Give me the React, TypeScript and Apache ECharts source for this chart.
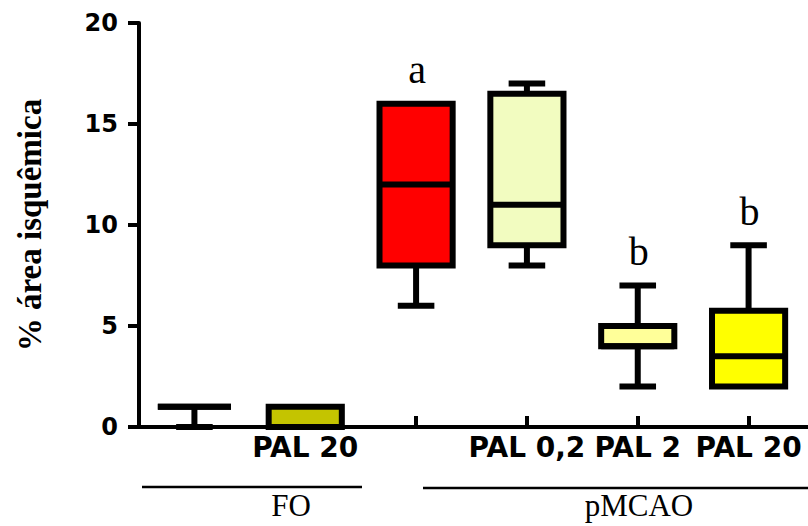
import React, { useEffect, useRef } from "react";
import * as echarts from "echarts";

const categories = ["", "PAL 20", "", "PAL 0,2", "PAL 2", "PAL 20"];
const minValues = [0, 0, 6, 8, 2, 2];
const q1Values = [1, 0, 8, 9, 4, 2];
const medianValues = [1, 0, 12, 11, 4, 3.5];
const q3Values = [1, 1, 16, 16.5, 5, 5.75];
const maxValues = [1, 1, 16, 17, 7, 9];
const boxColors = ["#ffffff", "#c4c400", "#ff0000", "#f2fcc0", "#ffff99", "#ffff00"];
const sigLetters = ["", "", "a", "", "b", "b"];
const yTickValues = [0, 5, 10, 15, 20];
const groupNames = ["FO", "pMCAO"];
const yAxisTitle = "% área isquêmica";

export default function App() {
  const ref = useRef<HTMLDivElement>(null);
  useEffect(() => {
    document.body.style.margin = "0";
    if (!ref.current) return;
    const chart = echarts.init(ref.current, null, { renderer: "svg" });
    const data = categories.map((_, i) => [
      i,
      minValues[i],
      q1Values[i],
      medianValues[i],
      q3Values[i],
      maxValues[i],
    ]);
    const blk = "#000000";
    const option: any = {
      animation: false,
      backgroundColor: "#ffffff",
      grid: { left: 139, right: 4, top: 23, bottom: 99, containLabel: false },
      xAxis: {
        type: "category",
        data: categories,
        boundaryGap: true,
        axisLine: { show: true, lineStyle: { color: blk, width: 4 } },
        axisTick: {
          show: true,
          inside: true,
          alignWithLabel: true,
          length: 11,
          lineStyle: { color: blk, width: 4 },
        },
        axisLabel: {
          interval: 0,
          margin: 6,
          color: blk,
          fontFamily: "DejaVu Sans",
          fontWeight: "bold",
          fontSize: 28,
        },
        splitLine: { show: false },
      },
      yAxis: {
        type: "value",
        min: yTickValues[0],
        max: yTickValues[yTickValues.length - 1],
        interval: 5,
        name: yAxisTitle,
        nameLocation: "middle",
        nameGap: 93,
        nameTextStyle: {
          color: blk,
          fontFamily: "Liberation Serif",
          fontWeight: "bold",
          fontSize: 33,
        },
        axisLine: { show: true, lineStyle: { color: blk, width: 4 } },
        axisTick: { show: true, inside: false, length: 11, lineStyle: { color: blk, width: 4 } },
        axisLabel: {
          margin: 21,
          color: blk,
          fontFamily: "DejaVu Sans",
          fontWeight: "bold",
          fontSize: 24,
        },
        splitLine: { show: false },
      },
      series: [
        {
          type: "custom",
          data,
          encode: { x: 0, y: [1, 2, 3, 4, 5] },
          clip: false,
          renderItem: (params: any, api: any) => {
            const idx = params.dataIndex;
            const i = api.value(0);
            const mn = api.value(1);
            const q1 = api.value(2);
            const md = api.value(3);
            const q3 = api.value(4);
            const mx = api.value(5);
            const band = api.size([1, 0])[0];
            const bw = band * 0.66;
            const cw = band * 0.33;
            const x = api.coord([i, mn])[0];
            const yMin = api.coord([i, mn])[1];
            const yQ1 = api.coord([i, q1])[1];
            const yMd = api.coord([i, md])[1];
            const yQ3 = api.coord([i, q3])[1];
            const yMax = api.coord([i, mx])[1];
            const ls = { stroke: blk, lineWidth: 6, lineCap: "butt" };
            const children: any[] = [];
            if (mx > q3) {
              children.push({ type: "line", shape: { x1: x, y1: yQ3, x2: x, y2: yMax }, style: ls });
              children.push({ type: "line", shape: { x1: x - cw / 2, y1: yMax, x2: x + cw / 2, y2: yMax }, style: ls });
            }
            if (mn < q1) {
              children.push({ type: "line", shape: { x1: x, y1: yQ1, x2: x, y2: yMin }, style: ls });
              children.push({ type: "line", shape: { x1: x - cw / 2, y1: yMin, x2: x + cw / 2, y2: yMin }, style: ls });
            }
            children.push({
              type: "polygon",
              shape: {
                points: [
                  [x - bw / 2, yQ3],
                  [x + bw / 2, yQ3],
                  [x + bw / 2, yQ1],
                  [x - bw / 2, yQ1],
                ],
              },
              style: { fill: boxColors[idx], stroke: blk, lineWidth: 6, lineJoin: "miter" },
            });
            children.push({ type: "line", shape: { x1: x - bw / 2, y1: yMd, x2: x + bw / 2, y2: yMd }, style: ls });
            if (sigLetters[idx]) {
              children.push({
                type: "text",
                style: {
                  text: sigLetters[idx],
                  x: x + 1,
                  y: yMax - 14,
                  align: "center",
                  verticalAlign: "bottom",
                  fill: blk,
                  font: 'normal 40px "Liberation Serif"',
                },
              });
            }
            return { type: "group", children };
          },
        },
      ],
      graphic: [
        { type: "line", shape: { x1: 800, y1: 427, x2: 808, y2: 427 }, style: { stroke: blk, lineWidth: 4 } },
        { type: "line", shape: { x1: 142, y1: 487, x2: 362, y2: 487 }, style: { stroke: blk, lineWidth: 2.5 } },
        { type: "line", shape: { x1: 423, y1: 488, x2: 808, y2: 488 }, style: { stroke: blk, lineWidth: 2.5 } },
        {
          type: "text",
          style: {
            text: groupNames[0],
            x: 291,
            y: 505,
            align: "center",
            verticalAlign: "middle",
            fill: blk,
            font: 'normal 31px "Liberation Serif"',
          },
        },
        {
          type: "text",
          style: {
            text: groupNames[1],
            x: 639,
            y: 505,
            align: "center",
            verticalAlign: "middle",
            fill: blk,
            font: 'normal 31px "Liberation Serif"',
          },
        },
      ],
    };
    chart.setOption(option);
    return () => chart.dispose();
  }, []);
  return <div ref={ref} style={{ width: 808, height: 526 }} />;
}
